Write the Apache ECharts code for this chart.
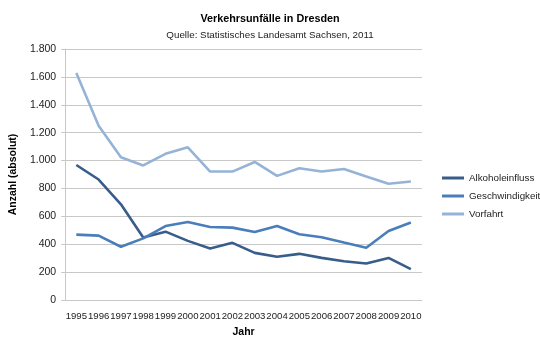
<!DOCTYPE html>
<html>
<head>
<meta charset="utf-8">
<script src="https://cdn.jsdelivr.net/npm/echarts@6/dist/echarts.min.js"></script>
<style>html,body{margin:0;padding:0;background:#fff}#c{width:540px;height:347px}</style>
</head>
<body>
<div id="c"></div>
<script>
const years = ['1995','1996','1997','1998','1999','2000','2001','2002','2003','2004','2005','2006','2007','2008','2009','2010'];
const alkohol = [968, 864, 686, 448, 490, 424, 370, 410, 338, 310, 331, 302, 278, 262, 302, 222];
const geschwindigkeit = [469, 462, 382, 442, 530, 560, 524, 519, 487, 531, 472, 450, 412, 375, 495, 556];
const vorfahrt = [1628, 1250, 1024, 965, 1048, 1095, 921, 921, 990, 890, 945, 921, 940, 886, 834, 850];
const seriesNames = ['Alkoholeinfluss', 'Geschwindigkeit', 'Vorfahrt'];
const colors = ['#385D8A', '#4A7EBB', '#95B3D7'];

const font = '"Liberation Sans", Arial, sans-serif';
const chart = echarts.init(document.getElementById('c'), null, {renderer: 'canvas'});
const fmt = v => v >= 1000 ? Math.floor(v/1000) + '.' + String(v%1000).padStart(3,'0') : String(v);
chart.setOption({
  animation: false,
  title: {
    text: 'Verkehrsunfälle in Dresden',
    subtext: 'Quelle: Statistisches Landesamt Sachsen, 2011',
    left: 'center', top: 9, itemGap: 5,
    textStyle: {fontFamily: font, fontSize: 10.8, fontWeight: 'bold', color: '#000'},
    subtextStyle: {fontFamily: font, fontSize: 9.8, color: '#222'}
  },
  legend: {
    orient: 'vertical', left: 437, top: 168, itemGap: 8,
    itemWidth: 22, itemHeight: 3, icon: 'rect',
    textStyle: {fontFamily: font, fontSize: 9.8, color: '#222'},
    data: seriesNames
  },
  grid: {left: 63, right: 118, top: 49, bottom: 47, containLabel: false},
  xAxis: {
    type: 'category', data: years, boundaryGap: true,
    name: 'Jahr', nameLocation: 'middle', nameGap: 27,
    nameTextStyle: {fontFamily: font, fontSize: 10.5, fontWeight: 'bold', color: '#000'},
    axisLine: {show: true, lineStyle: {color: '#c8c8c8', width: 1}},
    axisTick: {show: false},
    axisLabel: {fontFamily: font, fontSize: 9.6, color: '#222', margin: 11, interval: 0}
  },
  yAxis: {
    type: 'value', min: 0, max: 1800, interval: 200,
    name: 'Anzahl (absolut)', nameLocation: 'middle', nameGap: 33, nameRotate: 90,
    nameTextStyle: {fontFamily: font, fontSize: 10.5, fontWeight: 'bold', color: '#000'},
    axisLine: {show: true, lineStyle: {color: '#c8c8c8', width: 1}},
    axisTick: {show: true, length: 4, inside: false, lineStyle: {color: '#c8c8c8'}},
    splitLine: {show: true, lineStyle: {color: '#c8c8c8', width: 1}},
    axisLabel: {fontFamily: font, fontSize: 10.5, color: '#222', margin: 9, formatter: fmt}
  },
  series: seriesNames.map((n, i) => ({
    name: n, type: 'line', data: [alkohol, geschwindigkeit, vorfahrt][i],
    symbol: 'none', color: colors[i],
    lineStyle: {width: 2.6, color: colors[i]}
  }))
});
</script>
</body>
</html>
